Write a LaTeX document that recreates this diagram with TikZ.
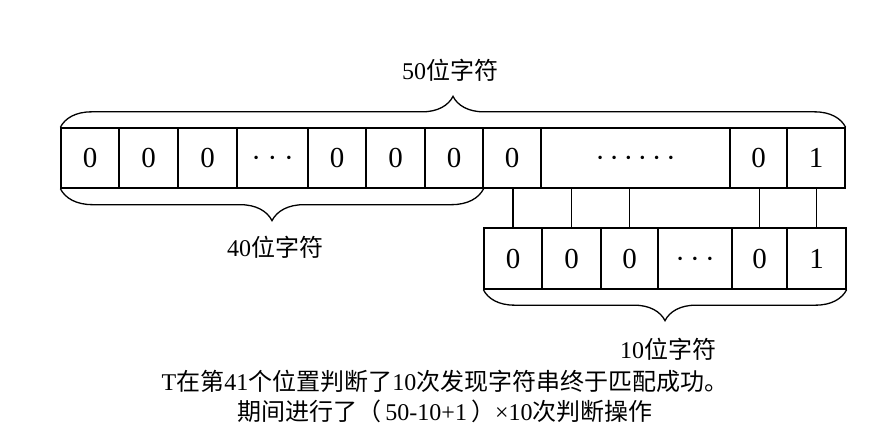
\documentclass[tikz,border=0pt]{standalone}
\usepackage{fontspec}
\setmainfont{Liberation Serif}
\newfontfamily\cjk{Noto Sans CJK SC}
\newcommand\zh[1]{{\cjk #1}}
\usetikzlibrary{decorations.pathreplacing}

\begin{document}
\begin{tikzpicture}[x=1pt, y=-1pt,
  cell/.style={draw, line width=1.3pt, inner sep=0pt, minimum height=60pt,
               font=\fontsize{29}{29}\selectfont},
  lbl/.style={inner sep=0pt, font=\fontsize{24}{24}\selectfont},
  captext/.style={inner sep=0pt, align=center, font=\fontsize{24}{30}\selectfont},
  brc/.style={decorate, line width=1.3pt},
  link/.style={line width=1.3pt}]

\path[use as bounding box] (0,0) rectangle (869,433);

% text string of 50 characters
\node[cell, minimum width=58pt]  (t1)  at (90,158)    {0};
\node[cell, minimum width=59pt]  (t2)  at (148.5,158) {0};
\node[cell, minimum width=59pt]  (t3)  at (207.5,158) {0};
\node[cell, minimum width=71pt]  (t4)  at (272.5,158) {\vphantom{0}·\hspace{6.75pt}·\hspace{6.75pt}·};
\node[cell, minimum width=58pt]  (t5)  at (337,158)   {0};
\node[cell, minimum width=59pt]  (t6)  at (395.5,158) {0};
\node[cell, minimum width=58pt]  (t7)  at (454,158)   {0};
\node[cell, minimum width=58pt]  (t8)  at (512,158)   {0};
\node[cell, minimum width=189pt] (t9)  at (635.5,158) {\vphantom{0}·\hspace{4.5pt}·\hspace{4.5pt}·\hspace{4.5pt}·\hspace{4.5pt}·\hspace{4.5pt}·};
\node[cell, minimum width=57pt]  (t10) at (758.5,158) {0};
\node[cell, minimum width=58pt]  (t11) at (816,158)   {1};

% pattern of 10 characters
\node[cell, minimum width=58pt, minimum height=61pt] (b1) at (513,258.5)   {0};
\node[cell, minimum width=59pt, minimum height=61pt] (b2) at (571.5,258.5) {0};
\node[cell, minimum width=57pt, minimum height=61pt] (b3) at (629.5,258.5) {0};
\node[cell, minimum width=74pt, minimum height=61pt] (b4) at (695,258.5)   {\vphantom{0}·\hspace{5.25pt}·\hspace{5.25pt}·};
\node[cell, minimum width=55pt, minimum height=61pt] (b5) at (759.5,258.5) {0};
\node[cell, minimum width=59pt, minimum height=61pt] (b6) at (816.5,258.5) {1};

% comparisons between pattern and text
\draw[link] (b1.north) -- (b1.north |- t8.south);
\draw[link] (b2.north) -- (b2.north |- t9.south);
\draw[link] (b3.north) -- (b3.north |- t9.south);
\draw[link] (b5.north) -- (b5.north |- t10.south);
\draw[link] (b6.north) -- (b6.north |- t11.south);

% braces
\draw[brc, decoration={brace, amplitude=31pt}] (t1.north west) -- (t11.north east);
\draw[brc, decoration={brace, mirror, amplitude=32pt}] (t1.south west) -- (t7.south east);
\draw[brc, decoration={brace, mirror, amplitude=31pt}] (b1.south west) -- (b6.south east);

% labels
\node[lbl] (l50) at (450,70)  {50\zh{位字符}};
\node[lbl] (l40) at (275,247) {40\zh{位字符}};
\node[lbl] (l10) at (668,349) {10\zh{位字符}};

% caption
\node[captext] (caption) at (445,396)
  {T\zh{在第}41\zh{个位置判断了}10\zh{次发现字符串终于匹配成功。}\\
   \zh{期间进行了（}\,50-10+1\,\zh{）}×10\zh{次判断操作}};
\end{tikzpicture}
\end{document}
